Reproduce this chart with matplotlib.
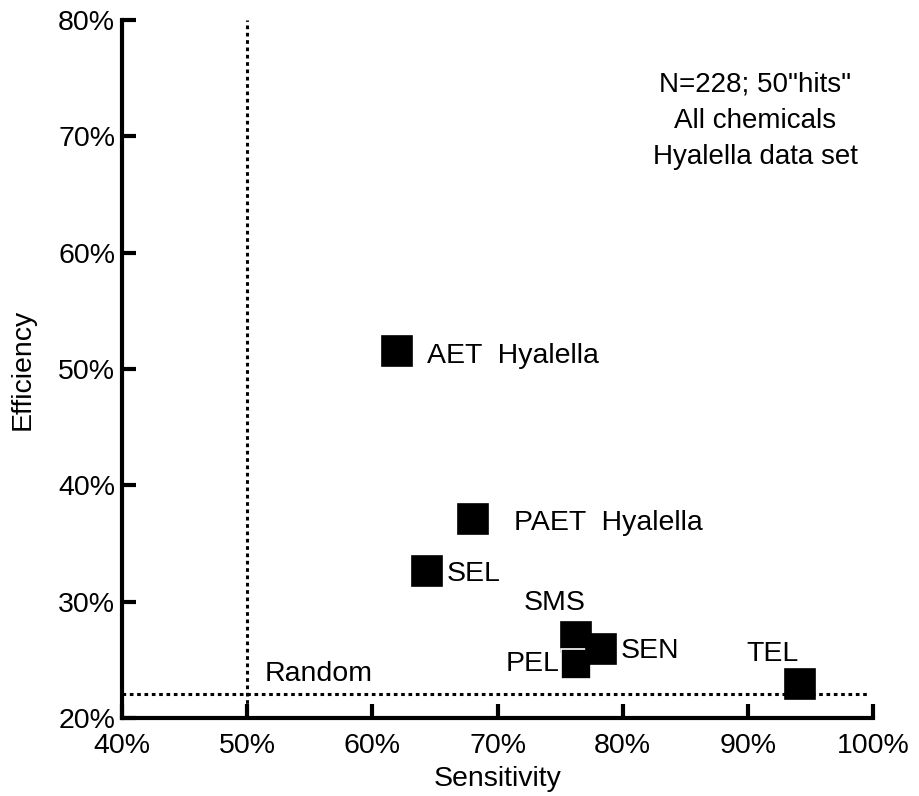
import numpy as np
import matplotlib.pyplot as plt
from matplotlib.ticker import PercentFormatter

plt.rcParams['font.family'] = ['Liberation Sans', 'DejaVu Sans']

# tests: sensitivity (%) vs efficiency (%)
nomes = ['AET  Hyalella', 'PAET  Hyalella', 'SEL', 'SMS', 'SEN', 'PEL', 'TEL']
sensibilidade = [62.0, 68.0, 64.4, 76.3, 78.3, 76.3, 94.2]
eficiencia = [51.5, 37.1, 32.6, 27.0, 25.9, 24.6, 22.9]

aleatorio = 22.1        # efficiency of random selection
corte_sens = 50.0       # sensitivity reference line

xticks = [40, 50, 60, 70, 80, 90, 100]
yticks = [20, 30, 40, 50, 60, 70, 80]

# label placement (offset in points, alignment)
rotulos = {
    'AET  Hyalella': ((21, -3), 'left', 'center'),
    'PAET  Hyalella': ((30, -3), 'left', 'center'),
    'SEL': ((14, -2), 'left', 'center'),
    'SMS': ((-16, 24), 'center', 'center'),
    'SEN': ((14, -1), 'left', 'center'),
    'PEL': ((-12, 0), 'right', 'center'),
    'TEL': ((-20, 22), 'center', 'center'),
}

fig = plt.figure(figsize=(9.19, 7.96), dpi=100)
ax = fig.add_axes([0.1328, 0.098, 0.8172, 0.877])

ax.set_xlim(40, 100)
ax.set_ylim(20, 80)

# reference lines
ax.plot([40, 99.6], [aleatorio, aleatorio], linestyle=(0, (1.2, 1.2)), color='black', lw=2.2)
ax.plot([corte_sens, corte_sens], [20, 80], linestyle=(0, (1.2, 1.2)), color='black', lw=2.2)
ax.text(51.4, aleatorio + 0.6, 'Random', fontsize=20.5, ha='left', va='bottom')

# squares: SEN drawn last so PEL's white edge only shows against SMS
ordem = [0, 1, 2, 3, 5, 4, 6]
for i in ordem:
    borda = 'white' if nomes[i] == 'PEL' else 'black'
    ax.plot(sensibilidade[i], eficiencia[i], marker='s', markersize=21,
            markerfacecolor='black', markeredgecolor=borda, markeredgewidth=1.2,
            linestyle='none', zorder=3)

for n, x, y in zip(nomes, sensibilidade, eficiencia):
    off, ha, va = rotulos[n]
    ax.annotate(n, (x, y), xytext=off, textcoords='offset points',
                ha=ha, va=va, fontsize=20.5)

ax.text(0.843, 0.926, 'N=228; 50"hits"\nAll chemicals\nHyalella data set',
        transform=ax.transAxes, ha='center', va='top', fontsize=20, linespacing=1.5)

ax.set_xticks(xticks)
ax.set_yticks(yticks)
ax.xaxis.set_major_formatter(PercentFormatter(decimals=0))
ax.yaxis.set_major_formatter(PercentFormatter(decimals=0))
ax.tick_params(direction='in', length=10, width=3, labelsize=20.5)
ax.tick_params(axis='x', pad=11)
ax.tick_params(axis='y', pad=5)

for lado in ['top', 'right']:
    ax.spines[lado].set_visible(False)
for lado in ['left', 'bottom']:
    ax.spines[lado].set_linewidth(3)

ax.set_xlabel('Sensitivity', fontsize=20.5, labelpad=5)
ax.set_ylabel('Efficiency', fontsize=20.5, labelpad=16)

fig.savefig('out.png', dpi=100)
